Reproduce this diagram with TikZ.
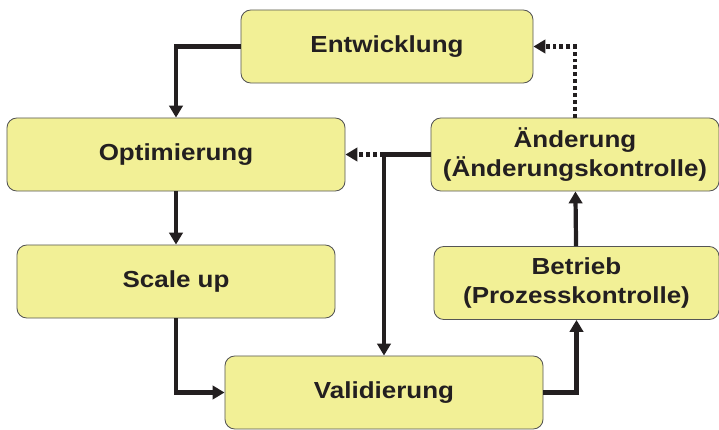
\documentclass[tikz,border=0pt]{standalone}
\usepackage{fontspec}
\setmainfont{Liberation Sans}
\newfontfamily\stagefont[FakeStretch=1.12]{Liberation Sans}
\usetikzlibrary{calc,positioning,arrows.meta}
\definecolor{boxfill}{HTML}{F2F096}
\definecolor{boxline}{HTML}{555555}
\definecolor{ink}{HTML}{231F20}

\begin{document}
\begin{tikzpicture}[x=0.025cm,y=-0.025cm,
  stage/.style={draw=boxline,line width=0.6pt,fill=boxfill,rounded corners=7pt,text=ink,
    minimum height=1.825cm,align=center,font=\stagefont\fontsize{16.5}{20.5}\selectfont\bfseries},
  flow/.style={draw=ink,line width=3pt,-{Triangle[length=8.5pt,width=9.5pt]}},
  back/.style={flow,dash pattern=on 2.8pt off 2.1pt}]
\useasboundingbox (0,0) rectangle (719,429);
\node[stage,minimum width=7.3cm] (ent) at (387,46.5) {Entwicklung};
\node[stage,minimum width=8.45cm] (opt) at (176,154.5) {Optimierung};
\node[stage,minimum width=7.95cm] (scl) at (176,281.5) {Scale up};
\node[stage,minimum width=7.95cm] (val) at (384,392.5) {Validierung};
\node[stage,minimum width=7.2cm] (aen) at (575,154.5) {Änderung\\(Änderungskontrolle)};
\node[stage,minimum width=7.125cm] (bet) at (576.5,283) {Betrieb\\(Prozesskontrolle)};
\coordinate (fork) at (val.north |- aen.west);
\draw[flow] (ent.west) -| (opt.north);
\draw[flow] (opt) -- (scl);
\draw[flow] (scl.south) |- (val.west);
\draw[flow] (val.east) -| (bet.south);
\draw[flow] (bet) -- (aen);
\draw[flow] (aen.west) -| (val.north);
\draw[back] (fork) -- (opt.east);
\draw[back] (aen.north) |- (ent.east);
\end{tikzpicture}
\end{document}
